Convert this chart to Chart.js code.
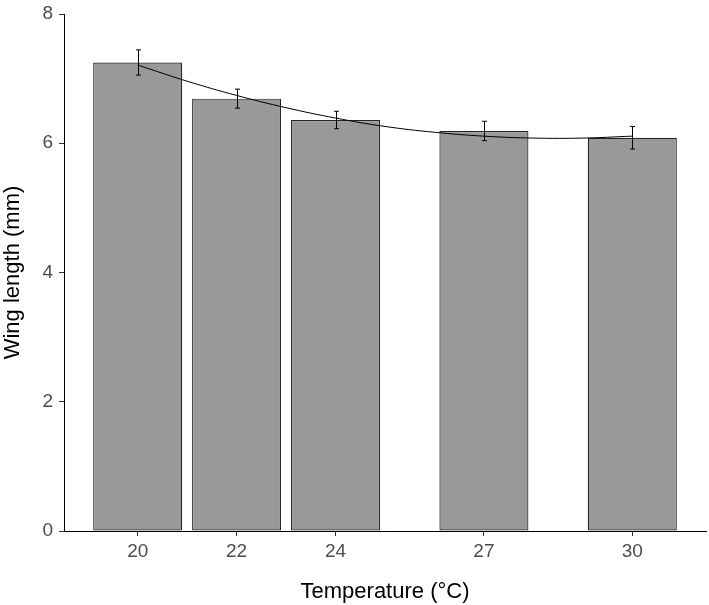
<!DOCTYPE html>
<html lang="en">
<head>
    <meta charset="UTF-8">
    <title>Wing length by temperature</title>
    <script src="https://cdn.jsdelivr.net/npm/chart.js"></script>
    <style>
        body {
            margin: 0;
            background: #fff;
        }
        #wrap {
            width: 709px;
            height: 605px;
        }
    </style>
</head>
<body>
    <div id="wrap">
        <canvas id="wingChart" width="709" height="605"></canvas>
    </div>

    <script>
        // data
        const temperatures = [20, 22, 24, 27, 30];
        const wingMeans = [7.25, 6.69, 6.36, 6.19, 6.085];
        const wingErrors = [0.195, 0.147, 0.135, 0.15, 0.175];

        // fitted curve, points
        const fitX = [20, 21, 22, 23, 24, 25, 26, 27, 28, 29, 30];
        const fitY = [7.21, 6.96, 6.74, 6.55, 6.39, 6.26, 6.17, 6.11, 6.08, 6.08, 6.11];

        const xTicks = [20, 22, 24, 27, 30];
        const yTicks = [0, 2, 4, 6, 8];

        const fontFamily = "'Liberation Sans', Arial, Helvetica, sans-serif";

        // error bars drawn over the bars
        const errorBarPlugin = {
            id: 'errorBars',
            afterDatasetsDraw(chart) {
                const ctx = chart.ctx;
                const xs = chart.scales.x;
                const ys = chart.scales.y;
                const capHalf = 2.5;
                ctx.save();
                ctx.strokeStyle = '#000';
                ctx.lineWidth = 1;
                temperatures.forEach((t, i) => {
                    const px = Math.round(xs.getPixelForValue(t)) + 0.5;
                    const top = ys.getPixelForValue(wingMeans[i] + wingErrors[i]);
                    const bot = ys.getPixelForValue(wingMeans[i] - wingErrors[i]);
                    ctx.beginPath();
                    ctx.moveTo(px, top);
                    ctx.lineTo(px, bot);
                    ctx.moveTo(px - capHalf, top);
                    ctx.lineTo(px + capHalf, top);
                    ctx.moveTo(px - capHalf, bot);
                    ctx.lineTo(px + capHalf, bot);
                    ctx.stroke();
                });
                ctx.restore();
            }
        };

        const ctx = document.getElementById('wingChart').getContext('2d');
        new Chart(ctx, {
            type: 'bar',
            data: {
                datasets: [
                    {
                        type: 'line',
                        label: 'fit',
                        data: fitX.map((x, i) => ({ x: x, y: fitY[i] })),
                        borderColor: '#000',
                        borderWidth: 1,
                        pointRadius: 0,
                        tension: 0.4,
                        fill: false,
                        order: 0
                    },
                    {
                        label: 'Wing length',
                        data: temperatures.map((t, i) => ({ x: t, y: wingMeans[i] })),
                        backgroundColor: '#999999',
                        borderColor: '#262626',
                        borderWidth: 1.2,
                        borderSkipped: false,
                        barPercentage: 0.9,
                        categoryPercentage: 1.0,
                        order: 1
                    }
                ]
            },
            options: {
                responsive: false,
                animation: false,
                layout: {
                    padding: { top: 14, right: 3, bottom: 0, left: 0 }
                },
                plugins: {
                    legend: { display: false },
                    tooltip: { enabled: false }
                },
                scales: {
                    x: {
                        type: 'linear',
                        offset: false,
                        min: 18.51,
                        max: 31.49,
                        afterBuildTicks: (axis) => {
                            axis.ticks = xTicks.map(v => ({ value: v }));
                        },
                        afterFit: (axis) => {
                            axis.height = 74;
                            axis.paddingLeft = 0;
                            axis.paddingRight = 0;
                        },
                        grid: {
                            offset: false,
                            drawOnChartArea: false,
                            drawTicks: true,
                            tickLength: 5,
                            color: '#333'
                        },
                        border: { display: true, color: '#000', width: 1 },
                        ticks: {
                            color: '#4d4d4d',
                            font: { family: fontFamily, size: 19 },
                            padding: 4,
                            maxRotation: 0
                        },
                        title: {
                            display: true,
                            text: 'Temperature (°C)',
                            color: '#000',
                            font: { family: fontFamily, size: 22 },
                            padding: { top: 4, bottom: 0 }
                        }
                    },
                    y: {
                        min: 0,
                        max: 8,
                        afterBuildTicks: (axis) => {
                            axis.ticks = yTicks.map(v => ({ value: v }));
                        },
                        afterFit: (axis) => {
                            axis.width = 64;
                            axis.paddingTop = 0;
                            axis.paddingBottom = 0;
                        },
                        grid: {
                            drawOnChartArea: false,
                            drawTicks: true,
                            tickLength: 5,
                            color: '#333'
                        },
                        border: { display: true, color: '#000', width: 1 },
                        ticks: {
                            color: '#4d4d4d',
                            font: { family: fontFamily, size: 19 },
                            padding: 6
                        },
                        title: {
                            display: true,
                            text: 'Wing length (mm)',
                            color: '#000',
                            font: { family: fontFamily, size: 22 },
                            padding: { top: 0, bottom: 4 }
                        }
                    }
                }
            },
            plugins: [errorBarPlugin]
        });
    </script>
</body>
</html>
